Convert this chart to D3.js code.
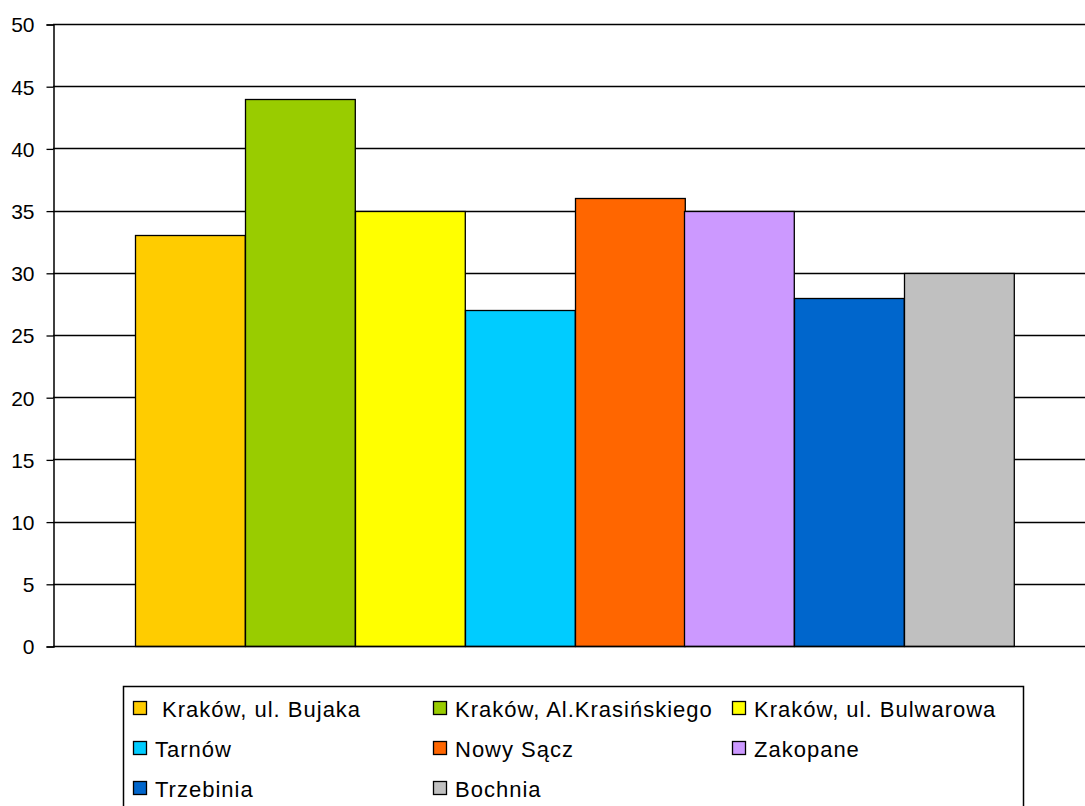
<!DOCTYPE html>
<html>
<head>
<meta charset="utf-8">
<script src="https://cdn.jsdelivr.net/npm/d3@7"></script>
<style>
  html, body { margin: 0; padding: 0; background: #fff; }
  svg { display: block; }
  text { font-family: "Liberation Sans", Arial, sans-serif; fill: #000; }
</style>
</head>
<body>
<svg id="chart" width="1085" height="806"></svg>
<script>
const categories = ["Kraków, ul. Bujaka", "Kraków, Al.Krasińskiego", "Kraków, ul. Bulwarowa",
                    "Tarnów", "Nowy Sącz", "Zakopane", "Trzebinia", "Bochnia"];
const values = [33, 44, 35, 27, 36, 35, 28, 30];
const colors = ["#FFCC00", "#99CC00", "#FFFF00", "#00CCFF", "#FF6600", "#CC99FF", "#0066CC", "#C0C0C0"];
const legendLabels = [" Kraków, ul. Bujaka", "Kraków, Al.Krasińskiego", "Kraków, ul. Bulwarowa",
                      "Tarnów", "Nowy Sącz", "Zakopane", "Trzebinia", "Bochnia"];
const yTicks = [0, 5, 10, 15, 20, 25, 30, 35, 40, 45, 50];

const svg = d3.select("#chart");
const plot = { left: 53, right: 1096, top: 24, bottom: 646 };

const y = d3.scaleLinear().domain([0, 50]).range([plot.bottom, plot.top]);
const x = d3.scaleBand().domain(categories).range([plot.left, plot.right])
  .paddingInner(0).paddingOuter(0.75);

// gridlines
svg.append("g").selectAll("line").data(yTicks.filter(d => d > 0)).join("line")
  .attr("x1", plot.left).attr("x2", plot.right)
  .attr("y1", d => Math.round(y(d)) + 0.5).attr("y2", d => Math.round(y(d)) + 0.5)
  .attr("stroke", "#000").attr("stroke-width", 1.3);

// bars
svg.append("g").selectAll("rect").data(values).join("rect")
  .attr("x", (d, i) => Math.round(x(categories[i])) + 0.5)
  .attr("y", d => Math.round(y(d)) + 0.5)
  .attr("width", x.bandwidth())
  .attr("height", d => Math.round(y(0)) - Math.round(y(d)))
  .attr("fill", (d, i) => colors[i])
  .attr("stroke", "#000").attr("stroke-width", 1.3);

// y axis
const yAxis = d3.axisLeft(y).tickValues(yTicks).tickSize(7).tickPadding(12);
const gy = svg.append("g").attr("transform", `translate(${plot.left + 0.5},0.5)`).call(yAxis);
gy.select(".domain").attr("stroke", "#000").attr("stroke-width", 1.5);
gy.selectAll(".tick line").attr("stroke", "#000").attr("stroke-width", 1.3);
gy.selectAll(".tick text").attr("font-size", 21).attr("font-family", "Liberation Sans, Arial, sans-serif")
  .attr("fill", "#000").attr("dy", "0.35em");

// baseline
svg.append("line").attr("x1", plot.left).attr("x2", plot.right)
  .attr("y1", Math.round(y(0)) + 0.5).attr("y2", Math.round(y(0)) + 0.5)
  .attr("stroke", "#000").attr("stroke-width", 1.3);

// legend
const lg = svg.append("g");
lg.append("rect").attr("x", 123.5).attr("y", 686.5).attr("width", 900).attr("height", 140)
  .attr("fill", "#fff").attr("stroke", "#000").attr("stroke-width", 1.5);
const colX = [133, 433, 732];
const rowY = [717, 757, 797];
legendLabels.forEach((lab, i) => {
  const cx = colX[i % 3], ry = rowY[Math.floor(i / 3)];
  lg.append("rect").attr("x", cx + 0.5).attr("y", ry - 15.5).attr("width", 13).attr("height", 13)
    .attr("fill", colors[i]).attr("stroke", "#000").attr("stroke-width", 1.3);
  lg.append("text").attr("x", cx + 22).attr("y", ry)
    .attr("font-size", 22).attr("letter-spacing", 1)
    .attr("xml:space", "preserve").style("white-space", "pre")
    .text(lab);
});
</script>
</body>
</html>
